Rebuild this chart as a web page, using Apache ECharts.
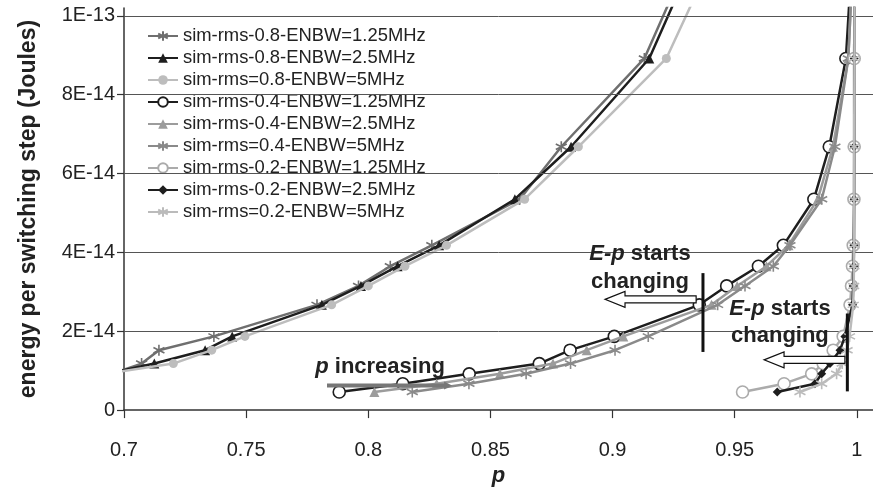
<!DOCTYPE html>
<html>
<head>
<meta charset="utf-8">
<script src="https://cdn.jsdelivr.net/npm/echarts@6/dist/echarts.min.js"></script>
<style>
  html, body { margin: 0; padding: 0; background: #fff; }
  #main { width: 873px; height: 492px; }
</style>
</head>
<body>
<div id="main"></div>
<script>
// energy levels of the switching steps (units of 1E-14 J), shared by every run
var energy = [0.46, 0.67, 0.92, 1.18, 1.52, 1.87, 2.67, 3.15, 3.65, 4.18, 5.35, 6.68, 8.92, 12];

// p reached at each energy level (null = off the chart)
var p08_125 = [null, null, 0.695, 0.7072, 0.7143, 0.7368, 0.779, 0.796, 0.809, 0.826, 0.862, 0.879, 0.913, 0.935];
var p08_25  = [null, null, 0.693, 0.7124, 0.7332, 0.7443, 0.781, 0.797, 0.812, 0.829, 0.860, 0.883, 0.915, 0.937];
var p08_5   = [null, null, 0.692, 0.7202, 0.7359, 0.7495, 0.785, 0.800, 0.815, 0.832, 0.864, 0.886, 0.922, 0.945];
var p04_125 = [0.7881, 0.8141, 0.8413, 0.870, 0.8826, 0.9007, 0.9355, 0.9467, 0.9597, 0.9699, 0.9824, 0.9887, 0.9955, 0.9985];
var p04_25  = [0.8025, 0.828, 0.8539, 0.8756, 0.8894, 0.9044, 0.9405, 0.951, 0.963, 0.972, 0.984, 0.9902, 0.9965, 0.9988];
var p04_5   = [0.818, 0.8412, 0.8646, 0.8828, 0.901, 0.9146, 0.943, 0.9542, 0.9658, 0.9726, 0.9856, 0.991, 0.9965, 0.9988];
var p02_125 = [0.9532, 0.9702, 0.9815, 0.9862, 0.9903, 0.9944, 0.9972, 0.9978, 0.9982, 0.9985, 0.9988, 0.9989, 0.9989, 0.999];
var p02_25  = [0.9674, 0.9828, 0.9856, 0.989, 0.9931, 0.9951, 0.9982, 0.9985, 0.9987, 0.9988, 0.9989, 0.9989, 0.9989, 0.999];
var p02_5   = [0.9767, 0.9856, 0.9917, 0.994, 0.996, 0.997, 0.9985, 0.9987, 0.9988, 0.9989, 0.9989, 0.9989, 0.999, 0.999];

var seriesNames = [
  'sim-rms-0.8-ENBW=1.25MHz', 'sim-rms-0.8-ENBW=2.5MHz', 'sim-rms=0.8-ENBW=5MHz',
  'sim-rms-0.4-ENBW=1.25MHz', 'sim-rms-0.4-ENBW=2.5MHz', 'sim-rms=0.4-ENBW=5MHz',
  'sim-rms-0.2-ENBW=1.25MHz', 'sim-rms-0.2-ENBW=2.5MHz', 'sim-rms=0.2-ENBW=5MHz'
];
var seriesP = [p08_125, p08_25, p08_5, p04_125, p04_25, p04_5, p02_125, p02_25, p02_5];

var xTicks = [0.7, 0.75, 0.8, 0.85, 0.9, 0.95, 1];
var yTicks = [0, 2, 4, 6, 8, 10];
var yTickLabels = ['0', '2E-14', '4E-14', '6E-14', '8E-14', '1E-13'];

var FONT = '"Liberation Sans", Arial, sans-serif';
var star = 'path://M5,0L5,10M0.67,2.5L9.33,7.5M0.67,7.5L9.33,2.5';

// look of each run
var looks = [
  { color: '#6f6f6f', symbol: star, size: 11 },
  { color: '#1e1e1e', symbol: 'triangle', size: 10 },
  { color: '#bdbdbd', symbol: 'circle', size: 9 },
  { color: '#1e1e1e', symbol: 'ring', size: 12 },
  { color: '#9c9c9c', symbol: 'triangle', size: 10 },
  { color: '#8a8a8a', symbol: star, size: 11 },
  { color: '#ababab', symbol: 'ring', size: 12 },
  { color: '#1e1e1e', symbol: 'diamond', size: 9 },
  { color: '#bbbbbb', symbol: star, size: 11 }
];

function pairs(pArr) {
  var out = [];
  for (var i = 0; i < pArr.length; i++) {
    if (pArr[i] !== null) out.push([pArr[i], energy[i]]);
  }
  return out;
}

var series = [{
  // horizontal grid lines
  type: 'line', data: [], z: 1, silent: true,
  markLine: {
    silent: true, symbol: 'none', label: { show: false },
    lineStyle: { color: '#555', width: 1, type: 'solid' },
    data: yTicks.slice(1).map(function (v) { return { yAxis: v }; })
  }
}];
seriesNames.forEach(function (name, i) {
  var lk = looks[i];
  var sym = lk.symbol, style;
  if (sym === star) {
    style = { color: 'rgba(0,0,0,0)', borderColor: lk.color, borderWidth: 1.6 };
  } else if (sym === 'ring') {
    sym = 'circle';
    style = { color: '#fff', borderColor: lk.color, borderWidth: 1.6 };
  } else {
    style = { color: lk.color, borderWidth: 0 };
  }
  series.push({
    name: name,
    type: 'line',
    data: pairs(seriesP[i]),
    symbol: sym,
    symbolSize: lk.size,
    lineStyle: { color: lk.color, width: 2.5, type: 'solid' },
    itemStyle: style,
    z: 2 + i
  });
});

var chart = echarts.init(document.getElementById('main'));
chart.setOption({
  animation: false,
  backgroundColor: '#fff',
  textStyle: { fontFamily: FONT },
  grid: { left: 124, right: 0, top: 8, bottom: 76 },
  legend: {
    orient: 'vertical',
    left: 129, top: 20,
    padding: [7, 10, 6, 18],
    backgroundColor: '#fff',
    itemWidth: 30, itemHeight: 12, itemGap: 4,
    textStyle: { fontSize: 18.4, color: '#222', fontFamily: FONT, lineHeight: 18 },
    data: seriesNames
  },
  xAxis: {
    type: 'value', min: 0.7, max: 1.0066,
    name: 'p', nameLocation: 'middle', nameGap: 52,
    nameTextStyle: { fontSize: 22, fontWeight: 'bold', fontStyle: 'italic', color: '#222', fontFamily: FONT },
    axisLine: { lineStyle: { color: '#333', width: 1.5 } },
    axisTick: { show: true, length: 8, customValues: xTicks, lineStyle: { color: '#333', width: 1.2 } },
    axisLabel: { customValues: xTicks, margin: 30, fontSize: 20, color: '#222', fontFamily: FONT },
    splitLine: { show: false }
  },
  yAxis: {
    type: 'value', min: 0, max: 10.2,
    name: 'energy per switching step (Joules)', nameLocation: 'middle', nameGap: 84,
    nameTextStyle: { fontSize: 23, fontWeight: 'bold', color: '#222', fontFamily: FONT },
    axisLine: { show: true, lineStyle: { color: '#333', width: 1.5 } },
    axisTick: { show: true, length: 7, customValues: yTicks, lineStyle: { color: '#333', width: 1.2 } },
    axisLabel: {
      customValues: yTicks, margin: 9, fontSize: 20, color: '#222', fontFamily: FONT,
      formatter: function (v) { return yTickLabels[yTicks.indexOf(Math.round(v))] || ''; }
    },
    splitLine: { show: false }
  },
  series: series
});

// annotations placed from data coordinates
function px(p, e) { return chart.convertToPixel({ gridIndex: 0 }, [p, e]); }
function hollowArrow(tipP, tailP, e) {
  var tip = px(tipP, e), tail = px(tailP, e);
  var y = tip[1], hx = tip[0] + 20;
  return {
    type: 'polygon', z: 100,
    shape: { points: [[tip[0], y], [hx, y - 8], [hx, y - 3.5], [tail[0], y - 3.5], [tail[0], y + 3.5], [hx, y + 3.5], [hx, y + 8]] },
    style: { fill: '#fff', stroke: '#111', lineWidth: 1.2 }
  };
}
function label(p, e, txt) {
  var c = px(p, e);
  return {
    type: 'text', z: 100, x: c[0], y: c[1],
    style: {
      text: txt, fontSize: 22, fontWeight: 'bold', fontFamily: FONT, fill: '#222',
      align: 'center', verticalAlign: 'middle',
      rich: { i: { fontSize: 22, fontWeight: 'bold', fontStyle: 'italic', fontFamily: FONT, fill: '#222' } }
    }
  };
}
function vline(p, e0, e1) {
  var a = px(p, e0), b = px(p, e1);
  return { type: 'line', z: 100, shape: { x1: a[0], y1: a[1], x2: b[0], y2: b[1] }, style: { stroke: '#111', lineWidth: 3 } };
}
var g0 = px(0.7831, 0.625), g1 = px(0.8343, 0.625);
chart.setOption({
  graphic: [
    vline(0.937, 1.475, 3.475),
    vline(0.9961, 0.475, 2.45),
    hollowArrow(0.8969, 0.9342, 2.81),
    hollowArrow(0.9620, 0.9951, 1.275),
    label(0.9112, 3.95, '{i|E-p} starts'),
    label(0.9112, 3.25, 'changing'),
    label(0.9685, 2.575, '{i|E-p} starts'),
    label(0.9685, 1.875, 'changing'),
    label(0.8048, 1.1, '{i|p} increasing'),
    { type: 'line', z: 100, shape: { x1: g0[0], y1: g0[1], x2: g1[0] - 6, y2: g1[1] }, style: { stroke: '#777', lineWidth: 4 } },
    { type: 'polygon', z: 100, shape: { points: [[g1[0] - 8, g1[1] - 4], [g1[0], g1[1]], [g1[0] - 8, g1[1] + 4]] }, style: { fill: '#777' } }
  ]
});
</script>
</body>
</html>
